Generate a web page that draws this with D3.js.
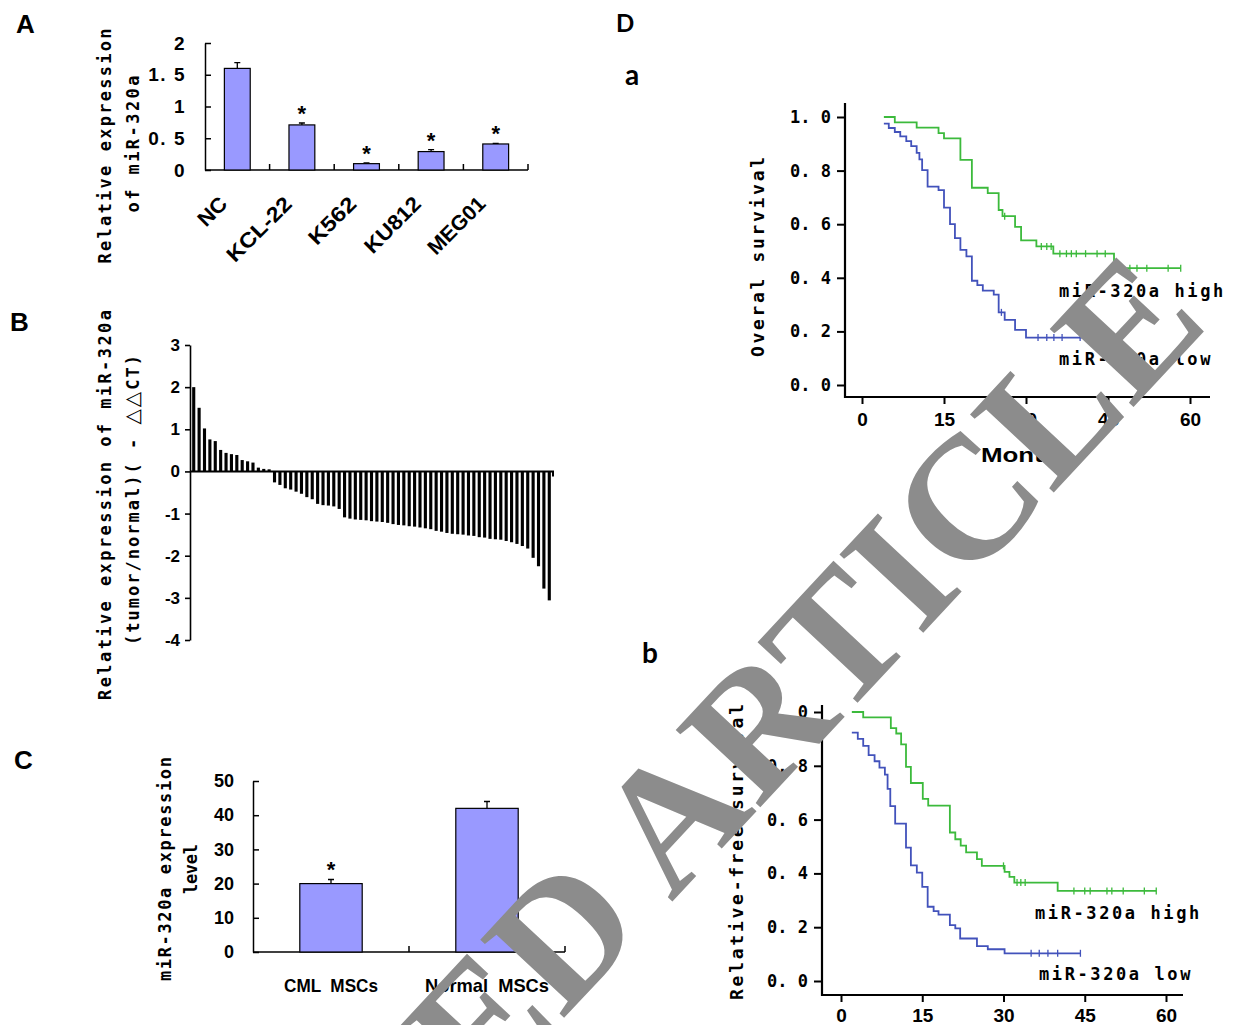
<!DOCTYPE html>
<html>
<head>
<meta charset="utf-8">
<script src="https://cdn.jsdelivr.net/npm/d3@7"></script>
<style>
body { margin: 0; background: #fff; }
</style>
</head>
<body>
<script>
// ---- Panel A: cell lines
const cellLines = ["NC", "KCL-22", "K562", "KU812", "MEG01"];
const cellExpr = [1.6, 0.71, 0.10, 0.29, 0.41];
const cellErr = [0.09, 0.03, 0.01, 0.03, 0.01];
const cellStar = [false, true, true, true, true];
const aTicks = [0, 0.5, 1, 1.5, 2];

// ---- Panel B: tumor / normal, sorted
const tumorExpr = [2.0, 1.51, 1.02, 0.76, 0.72, 0.51, 0.44, 0.41, 0.39, 0.27, 0.24, 0.21, 0.09, 0.06, 0.05,
  -0.26, -0.32, -0.40, -0.43, -0.48, -0.53, -0.61, -0.66, -0.77, -0.80, -0.81, -0.83, -0.89,
  -1.09, -1.12, -1.14, -1.15, -1.16, -1.18, -1.19, -1.20, -1.22, -1.25, -1.27, -1.28, -1.30,
  -1.31, -1.33, -1.35, -1.37, -1.41, -1.43, -1.46, -1.48, -1.49, -1.50, -1.52, -1.53, -1.56,
  -1.57, -1.60, -1.61, -1.62, -1.65, -1.68, -1.72, -1.77, -1.83, -2.05, -2.25, -2.78, -3.06];
const bTicks = [-4, -3, -2, -1, 0, 1, 2, 3];

// ---- Panel C: MSCs
const mscGroups = ["CML  MSCs", "Normal  MSCs"];
const mscLevel = [20, 42];
const mscErr = [1.2, 2.0];
const cTicks = [0, 10, 20, 30, 40, 50];

// ---- Panel D: Kaplan-Meier, [month, survival] steps + censored months
const survTicks = [0, 0.2, 0.4, 0.6, 0.8, 1.0];
const monthTicks = [0, 15, 30, 45, 60];
const osHigh = [[4, 1.0], [6, 0.98], [10, 0.96], [14, 0.94], [15, 0.92], [18, 0.84], [20.1, 0.736], [23, 0.716],
  [25, 0.653], [25.7, 0.63], [28, 0.59], [29.1, 0.54], [31.9, 0.517], [35, 0.49], [46.1, 0.436], [58.3, 0.436]];
const osHighCens = [26.1, 32.8, 33.8, 34.6, 36.2, 37.4, 38.3, 39.2, 40.9, 43.0, 44.5, 47.6, 49.0, 50.3, 52.1, 56.0, 58.3];
const osLow = [[4, 0.975], [4.9, 0.959], [6, 0.944], [7, 0.928], [8.1, 0.91], [9, 0.891], [10, 0.866], [10.5, 0.842],
  [11, 0.802], [12, 0.74], [14, 0.727], [15, 0.662], [16.1, 0.6], [17, 0.548], [18, 0.504], [19.1, 0.48],
  [20.1, 0.389], [21.1, 0.373], [22.1, 0.352], [24.1, 0.337], [25, 0.271], [26.1, 0.243], [28, 0.206], [30, 0.177], [44.3, 0.177]];
const osLowCens = [25.5, 32.2, 33.8, 35.1, 36.6, 39.9, 44.3];
const rfsHigh = [[2, 1.0], [4.1, 0.98], [9.2, 0.94], [10.2, 0.92], [11.1, 0.88], [12, 0.796], [12.9, 0.736], [15.1, 0.677],
  [16.1, 0.652], [20.1, 0.552], [21.1, 0.527], [22.1, 0.503], [23.1, 0.478], [25.1, 0.453], [26, 0.428], [30.2, 0.406],
  [31.1, 0.387], [32, 0.366], [40, 0.335], [58.2, 0.335]];
const rfsHighCens = [30, 32.5, 33.2, 34.0, 43, 45, 46, 49.1, 50, 52.1, 56, 58.2];
const rfsLow = [[2, 0.923], [3.1, 0.9], [4.1, 0.874], [5.1, 0.84], [6.2, 0.817], [7.1, 0.793], [8.1, 0.767], [8.6, 0.714],
  [9.1, 0.65], [10, 0.585], [12, 0.496], [12.9, 0.43], [14, 0.403], [15, 0.35], [16, 0.276], [17.1, 0.26], [18, 0.247],
  [20.1, 0.208], [21.1, 0.196], [22, 0.158], [25.1, 0.13], [27.1, 0.118], [30.2, 0.103], [44.2, 0.103]];
const rfsLowCens = [35.1, 36.6, 38.2, 40, 44.2];

const MONO = "'DejaVu Sans Mono', monospace";
const SANS = "'Liberation Sans', Arial, sans-serif";
const NARROW = "'Liberation Sans Narrow', 'Arial Narrow', 'Liberation Sans', sans-serif";
const CAL = "Lato, 'Open Sans', sans-serif";
const barFill = "#9999ff";
const green = "#3cba3c";
const blue = "#4252bb";

const svg = d3.select("body").append("svg")
    .attr("width", 1237)
    .attr("height", 1025);

function label(g, s, x, y, size, family, extra) {
    const t = g.append("text")
        .attr("x", x)
        .attr("y", y)
        .attr("font-family", family)
        .attr("font-weight", "bold")
        .attr("font-size", size)
        .style("white-space", "pre")
        .text(s);
    if (extra) Object.entries(extra).forEach(([k, v]) => t.attr(k, v));
    return t;
}

// rotated axis titles, x is the baseline
function yTitle(g, s, x, cy, len, size) {
    return g.append("text")
        .attr("transform", `translate(${x},${cy}) rotate(-90)`)
        .attr("text-anchor", "middle")
        .attr("font-family", MONO)
        .attr("font-weight", "bold")
        .attr("font-size", size)
        .attr("fill", "#000")
        .attr("textLength", len)
        .attr("lengthAdjust", "spacing")
        .text(s);
}

function styleAxis(ax, family, size, width) {
    ax.select(".domain").attr("stroke-width", width);
    ax.selectAll(".tick line").attr("stroke-width", width);
    ax.selectAll("text")
        .attr("font-family", family)
        .attr("font-size", size)
        .attr("font-weight", "bold")
        .attr("fill", "#000");
}

const spaced = d => Number.isInteger(d) ? String(d) : d.toFixed(1).replace(".", ". ");

// ===================== Panel A
const gA = svg.append("g");
label(gA, "A", 16, 33, 26, NARROW);
const xA = d3.scaleBand().domain(cellLines).range([205, 528]).paddingInner(0.6).paddingOuter(0.3);
const yA = d3.scaleLinear().domain([0, 2]).range([170, 43]);

const axA = gA.append("g")
    .attr("transform", "translate(205,0)")
    .call(d3.axisLeft(yA).tickValues(aTicks).tickSizeInner(-6).tickSizeOuter(0).tickPadding(19).tickFormat(spaced));
styleAxis(axA, SANS, 19, 1.5);
axA.selectAll("text").attr("letter-spacing", 1.5);

gA.append("line").attr("x1", 205).attr("x2", 528).attr("y1", yA(0)).attr("y2", yA(0))
    .attr("stroke", "#000").attr("stroke-width", 1.5);
gA.selectAll(".sepA").data(cellLines).enter().append("line")
    .attr("x1", d => xA(d) + xA.bandwidth() / 2 + xA.step() / 2)
    .attr("x2", d => xA(d) + xA.bandwidth() / 2 + xA.step() / 2)
    .attr("y1", yA(0)).attr("y2", yA(0) - 6)
    .attr("stroke", "#000").attr("stroke-width", 1.5);

gA.selectAll(".errA").data(cellLines).enter().append("path")
    .attr("d", (d, i) => {
        const cx = xA(d) + xA.bandwidth() / 2, top = yA(cellExpr[i] + cellErr[i]);
        return `M${cx},${yA(cellExpr[i])}V${top}M${cx - 3},${top}H${cx + 3}`;
    })
    .attr("stroke", "#000").attr("stroke-width", 1.3).attr("fill", "none");
gA.selectAll(".barA").data(cellLines).enter().append("rect")
    .attr("x", d => xA(d))
    .attr("y", (d, i) => yA(cellExpr[i]))
    .attr("width", xA.bandwidth())
    .attr("height", (d, i) => yA(0) - yA(cellExpr[i]))
    .attr("fill", barFill).attr("stroke", "#000").attr("stroke-width", 1.2);
gA.selectAll(".starA").data(cellLines.filter((d, i) => cellStar[i])).enter().append("text")
    .attr("x", d => xA(d) + xA.bandwidth() / 2)
    .attr("y", d => yA(cellExpr[cellLines.indexOf(d)] + cellErr[cellLines.indexOf(d)]) - 2)
    .attr("text-anchor", "middle")
    .attr("font-family", SANS).attr("font-weight", "bold").attr("font-size", 22)
    .text("*");
const catLenA = [32, 82, 58, 70, 72];
gA.selectAll(".catA").data(cellLines).enter().append("text")
    .attr("transform", d => `translate(${xA(d) + xA.bandwidth() / 2 - 14},${200}) rotate(-45)`)
    .attr("text-anchor", "end")
    .attr("dy", "0.35em")
    .attr("font-family", NARROW).attr("font-weight", "bold").attr("font-size", 21)
    .attr("textLength", (d, i) => catLenA[i]).attr("lengthAdjust", "spacingAndGlyphs")
    .text(d => d);
yTitle(gA, "Relative expression", 111, 146, 235, 17);
yTitle(gA, "of miR-320a", 139, 144, 137, 17);

// ===================== Panel B
const gB = svg.append("g");
label(gB, "B", 10, 331, 26, NARROW);
const xB = d3.scaleBand().domain(d3.range(tumorExpr.length)).range([190, 553]).paddingInner(0.42).paddingOuter(0.4);
const yB = d3.scaleLinear().domain([-4, 3]).range([640, 345]);
const axB = gB.append("g")
    .attr("transform", "translate(190,0)")
    .call(d3.axisLeft(yB).tickValues(bTicks).tickSize(5).tickSizeOuter(0).tickPadding(5).tickFormat(d => String(d)));
styleAxis(axB, SANS, 17, 1.6);
gB.selectAll(".barB").data(tumorExpr).enter().append("rect")
    .attr("x", (d, i) => xB(i))
    .attr("y", d => Math.min(yB(d), yB(0)))
    .attr("width", xB.bandwidth())
    .attr("height", d => Math.abs(yB(d) - yB(0)))
    .attr("fill", "#000");
gB.append("path")
    .attr("d", `M190,${yB(0)}H553V${yB(0) + 5}`)
    .attr("stroke", "#000").attr("stroke-width", 2).attr("fill", "none");
yTitle(gB, "Relative expression of miR-320a", 111, 505, 390, 17);
const bSub = yTitle(gB, null, 139, 500, 290, 17);
bSub.append("tspan").text("(tumor/normal)( - ");
bSub.append("tspan").attr("font-family", "'DejaVu Sans', sans-serif").attr("font-size", 20).attr("fill", "#000").text("\u25B3\u25B3");
bSub.append("tspan").text("CT)");

// ===================== Panel C
const gC = svg.append("g");
label(gC, "C", 14, 769, 26, NARROW);
const xC = d3.scaleBand().domain(mscGroups).range([253, 565]).paddingInner(0.6).paddingOuter(0.3);
const yC = d3.scaleLinear().domain([0, 50]).range([952, 781]);
const axC = gC.append("g")
    .attr("transform", "translate(253,0)")
    .call(d3.axisLeft(yC).tickValues(cTicks).tickSizeInner(-6).tickSizeOuter(0).tickPadding(19));
styleAxis(axC, SANS, 18, 1.5);
gC.append("line").attr("x1", 253).attr("x2", 565).attr("y1", yC(0)).attr("y2", yC(0))
    .attr("stroke", "#000").attr("stroke-width", 1.5);
gC.selectAll(".sepC").data(mscGroups).enter().append("line")
    .attr("x1", d => xC(d) + xC.bandwidth() / 2 + xC.step() / 2)
    .attr("x2", d => xC(d) + xC.bandwidth() / 2 + xC.step() / 2)
    .attr("y1", yC(0)).attr("y2", yC(0) - 6)
    .attr("stroke", "#000").attr("stroke-width", 1.5);
gC.selectAll(".errC").data(mscGroups).enter().append("path")
    .attr("d", (d, i) => {
        const cx = xC(d) + xC.bandwidth() / 2, top = yC(mscLevel[i] + mscErr[i]);
        return `M${cx},${yC(mscLevel[i])}V${top}M${cx - 3},${top}H${cx + 3}`;
    })
    .attr("stroke", "#000").attr("stroke-width", 1.3).attr("fill", "none");
gC.selectAll(".barC").data(mscGroups).enter().append("rect")
    .attr("x", d => xC(d))
    .attr("y", (d, i) => yC(mscLevel[i]))
    .attr("width", xC.bandwidth())
    .attr("height", (d, i) => yC(0) - yC(mscLevel[i]))
    .attr("fill", barFill).attr("stroke", "#000").attr("stroke-width", 1.2);
label(gC, "*", xC(mscGroups[0]) + xC.bandwidth() / 2, yC(mscLevel[0] + mscErr[0]) - 2, 22, SANS, { "text-anchor": "middle" });
const catLenC = [94, 124];
gC.selectAll(".catC").data(mscGroups).enter().append("text")
    .attr("x", d => xC(d) + xC.bandwidth() / 2)
    .attr("y", 992)
    .attr("text-anchor", "middle")
    .attr("font-family", NARROW).attr("font-weight", "bold").attr("font-size", 19)
    .attr("textLength", (d, i) => catLenC[i]).attr("lengthAdjust", "spacingAndGlyphs")
    .style("white-space", "pre")
    .text(d => d);
yTitle(gC, "miR-320a expression", 171, 869, 224, 17);
yTitle(gC, "level", 197, 869, 50, 17);

// ===================== Panel D
label(svg, "D", 616, 32, 24, CAL);
const stepLine = d3.line().curve(d3.curveStepAfter);
function survAt(steps, t) {
    let s = steps[0][1];
    steps.forEach(([m, v]) => { if (m <= t) s = v; });
    return s;
}

function kmPanel(cfg) {
    const g = svg.append("g");
    const x = d3.scaleLinear().domain([0, 60]).range(cfg.xr);
    const y = d3.scaleLinear().domain([0, 1]).range(cfg.yr);

    const ay = g.append("g")
        .attr("transform", `translate(${cfg.ax},0)`)
        .call(d3.axisLeft(y).tickValues(survTicks).tickSize(8).tickPadding(6).tickFormat(d => d.toFixed(1).replace(".", ". ")));
    ay.select(".domain").remove();
    styleAxis(ay, MONO, 17, 2);
    const axx = g.append("g")
        .attr("transform", `translate(0,${cfg.ay})`)
        .call(d3.axisBottom(x).tickValues(monthTicks).tickSize(7).tickPadding(cfg.xPad));
    axx.select(".domain").remove();
    styleAxis(axx, SANS, 19, 2);
    g.append("path")
        .attr("d", `M${cfg.ax},${cfg.yTop}V${cfg.ay}H${cfg.xEnd}`)
        .attr("stroke", "#000").attr("stroke-width", 2.2).attr("fill", "none");

    [[cfg.high, cfg.highCens, green], [cfg.low, cfg.lowCens, blue]].forEach(([steps, cens, col]) => {
        g.append("path")
            .attr("d", stepLine(steps.map(([m, v]) => [x(m), y(v)])))
            .attr("fill", "none").attr("stroke", col).attr("stroke-width", 1.8);
        g.selectAll(null).data(cens).enter().append("line")
            .attr("x1", d => x(d)).attr("x2", d => x(d))
            .attr("y1", d => y(survAt(steps, d)) - 3.5)
            .attr("y2", d => y(survAt(steps, d)) + 3.5)
            .attr("stroke", col).attr("stroke-width", 1.3);
    });

    label(g, "miR-320a high", cfg.hiLab[0], cfg.hiLab[1], 17, MONO, { "letter-spacing": 2.6 });
    label(g, "miR-320a low", cfg.loLab[0], cfg.loLab[1], 17, MONO, { "letter-spacing": 2.6 });
    yTitle(g, cfg.title, cfg.title_x, cfg.title_cy, cfg.title_len, 18);
    return g;
}

const gDa = kmPanel({
    xr: [862, 1190], yr: [385, 117], ax: 845, ay: 397, yTop: 103, xEnd: 1210, xPad: 9,
    high: osHigh, highCens: osHighCens, low: osLow, lowCens: osLowCens,
    hiLab: [1059, 297], loLab: [1059, 365],
    title: "Overal survival", title_x: 764, title_cy: 257, title_len: 200
});
label(gDa, "a", 625, 85, 28, CAL);
label(gDa, "Months", 1027, 462, 21, NARROW, { "text-anchor": "middle", "textLength": 92, "lengthAdjust": "spacingAndGlyphs" });

const gDb = kmPanel({
    xr: [841, 1166], yr: [981, 712], ax: 822, ay: 995, yTop: 705, xEnd: 1183, xPad: 7,
    high: rfsHigh, highCens: rfsHighCens, low: rfsLow, lowCens: rfsLowCens,
    hiLab: [1035, 919], loLab: [1039, 980],
    title: "Relative-free survival", title_x: 743, title_cy: 852, title_len: 296
});
label(gDb, "b", 642, 663, 28, CAL);

// ===================== watermark
svg.append("text")
    .attr("transform", "translate(1211,324) rotate(-47)")
    .attr("text-anchor", "end")
    .attr("font-family", "'Liberation Serif', 'Times New Roman', serif")
    .attr("font-weight", "bold")
    .attr("font-size", 175)
    .attr("fill", "#8c8c8c")
    .text("RETRACTED ARTICLE");
</script>
</body>
</html>
